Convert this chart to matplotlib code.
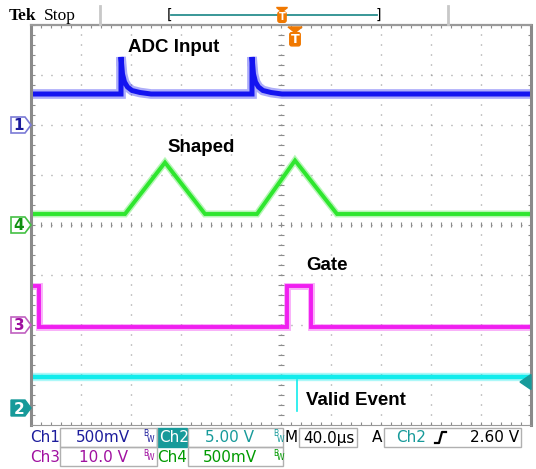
import numpy as np
import matplotlib
matplotlib.use("Agg")
from matplotlib import pyplot as plt
from matplotlib.patches import Polygon, Rectangle, FancyBboxPatch

# Trace data, in screen divisions (10 x 8 graticule)
ch1_t = [0.04, 1.80, 1.80, 1.83, 1.87, 1.93, 2.02, 2.18, 2.40, 4.42, 4.42, 4.45, 4.49, 4.55, 4.64, 4.80, 5.02, 9.98]
ch1_v = [6.62, 6.62, 7.36, 7.02, 6.86, 6.76, 6.69, 6.65, 6.62, 6.62, 7.36, 7.02, 6.86, 6.76, 6.69, 6.65, 6.62, 6.62]

ch4_t = [0.04, 1.88, 2.68, 3.48, 4.52, 5.28, 6.12, 9.98]
ch4_v = [4.22, 4.22, 5.25, 4.22, 4.22, 5.29, 4.22, 4.22]

ch3_t = [0.04, 0.16, 0.16, 5.12, 5.12, 5.60, 5.60, 9.98]
ch3_v = [2.78, 2.78, 1.97, 1.97, 2.78, 2.78, 1.97, 1.97]

ch2_t = [0.04, 9.98]
ch2_v = [0.97, 0.97]
glitch_t = [5.32, 5.32]
glitch_v = [0.90, 0.28]

# Channel ground markers (divisions) and trigger level
markers = [("1", 6.0), ("4", 4.0), ("3", 2.0), ("2", 0.34)]
trig_level = 0.86

labels = ["ADC Input", "Shaped", "Gate", "Valid Event"]
label_pos = [(1.94, 7.56), (2.72, 5.56), (5.5, 3.18), (5.5, 0.5)]

BLUE = "#1414f0"
GREEN = "#2ee62e"
MAGENTA = "#f01ef0"
CYAN = "#12ecec"
TEAL = "#179a9a"
ORANGE = "#f07800"

W, H = 536, 469
fig = plt.figure(figsize=(W / 100, H / 100), dpi=100)

# scope graticule
ax = fig.add_axes([31 / W, (H - 425) / H, 500 / W, 400 / H])
ax.set_xlim(0, 10)
ax.set_ylim(0, 8)
ax.set_xticks([])
ax.set_yticks([])
for s in ["left", "right"]:
    ax.spines[s].set_color("#8a8a8a")
    ax.spines[s].set_linewidth(2.2)
ax.spines["top"].set_color("#9a9a9a")
ax.spines["top"].set_linewidth(1.6)
ax.spines["bottom"].set_color("#9a9a9a")
ax.spines["bottom"].set_linewidth(0.8)

# overlay axes in pixel coordinates for the scope furniture
ov = fig.add_axes([0, 0, 1, 1])
ov.set_xlim(0, W)
ov.set_ylim(H, 0)
ov.axis("off")
ov.set_zorder(5)

dots = (0, (0.7, 6.5))
for gx in range(1, 10):
    ax.axvline(gx, color="#8c8c8c", lw=1.0, linestyle=dots)
for gy in range(1, 8):
    ax.axhline(gy, color="#8c8c8c", lw=1.0, linestyle=dots)

# centre axes and border tick marks
minor = np.arange(0, 10.01, 0.2)
ax.vlines(minor, 4 - 0.05, 4 + 0.05, color="#8c8c8c", lw=0.8)
ax.vlines(minor, 8 - 0.07, 8, color="#8c8c8c", lw=0.8)
ax.vlines(minor, 0, 0.07, color="#8c8c8c", lw=0.8)
minor_y = np.arange(0, 8.01, 0.2)
ax.hlines(minor_y, 5 - 0.06, 5 + 0.06, color="#8c8c8c", lw=0.8)
ax.hlines(minor_y, 0, 0.07, color="#8c8c8c", lw=0.8)
ax.hlines(minor_y, 10 - 0.07, 10, color="#8c8c8c", lw=0.8)

# traces: a soft noise band plus a solid core
traces = [(ch1_t, ch1_v, BLUE, 7.0, 3.6),
          (ch4_t, ch4_v, GREEN, 5.0, 2.8),
          (ch3_t, ch3_v, MAGENTA, 5.0, 2.8),
          (ch2_t, ch2_v, CYAN, 6.0, 3.2)]
for t, v, c, wide, core in traces:
    ax.plot(t, v, color=c, lw=wide, alpha=0.35, solid_joinstyle="miter")
    ax.plot(t, v, color=c, lw=core, alpha=1.0, solid_joinstyle="miter")
ax.plot(glitch_t, glitch_v, color=CYAN, lw=1.2)

for txt, (x, y) in zip(labels, label_pos):
    ax.text(x, y, txt, fontsize=13.5, fontweight="bold",
            family="Liberation Sans", va="center", ha="left")

# trigger level arrow on the right
ax.add_patch(Polygon([[10.0, trig_level + 0.15], [9.78, trig_level],
                      [10.0, trig_level - 0.15]], closed=True,
                     color=TEAL, clip_on=False, zorder=5))

# channel ground markers on the left
mcolors = {"1": ("#7a7ad6", "#1c1c9c"), "4": ("#44c044", "#109010"),
           "3": ("#c060c0", "#a010a0"), "2": (TEAL, "white")}
for name, lvl in markers:
    y = 425 - lvl * 50
    edge, txtc = mcolors[name]
    pts = [[11, y - 8], [25, y - 8], [31, y], [25, y + 8], [11, y + 8]]
    if name == "2":
        ov.add_patch(Polygon(pts, closed=True, facecolor=TEAL, edgecolor=TEAL))
    else:
        ov.add_patch(Polygon(pts, closed=True, facecolor="white",
                             edgecolor=edge, lw=1.2))
    ov.text(19, y + 1, name, color=txtc, fontsize=11, fontweight="bold",
            ha="center", va="center", family="DejaVu Sans")

# top status bar
ov.text(9, 16, "Tek", fontsize=12.5, fontweight="bold", family="Liberation Serif",
        va="center")
ov.text(44, 16, "Stop", fontsize=12.5, family="Liberation Serif", va="center")
for x in [100, 448]:
    ov.plot([x, x], [6, 24], color="#c8c8c8", lw=2)
ov.plot([171, 377], [15, 15], color="#2a8f8f", lw=1.3)
ov.text(170, 15, "[", fontsize=10, va="center", ha="center", family="DejaVu Sans")
ov.text(378, 15, "]", fontsize=10, va="center", ha="center", family="DejaVu Sans")


def trig_marker(x, ytop, size):
    ov.add_patch(Polygon([[x - size, ytop], [x + size, ytop], [x, ytop + size * 0.8]],
                         closed=True, color=ORANGE, zorder=6))
    ov.add_patch(FancyBboxPatch((x - size * 0.75, ytop + size * 0.8), size * 1.5,
                                size * 1.9, boxstyle="round,pad=0,rounding_size=2",
                                color=ORANGE, zorder=6))
    ov.text(x, ytop + size * 1.8, "T", color="white", fontsize=size * 1.3,
            fontweight="bold", ha="center", va="center", zorder=7)


trig_marker(282, 7.5, 5.5)
trig_marker(295, 27, 7)

# bottom readout
FS = 11
ov.add_patch(Rectangle((157, 428), 30, 19, color=TEAL))
boxes = [(60, 428, 97), (188, 428, 95), (299, 428, 58), (384, 428, 137),
         (60, 447, 97), (188, 447, 95)]
for x, y, w in boxes:
    ov.add_patch(Rectangle((x, y), w, 19, fill=False, edgecolor="#b0b0b0", lw=1))

row1, row2 = 438, 457
readout = [
    (30, row1, "Ch1", "#1c1c9c"), (76, row1, "500mV", "#1c1c9c"),
    (159, row1, "Ch2", "white"), (205, row1, "5.00 V", TEAL),
    (285, row1, "M", "black"), (303, row1, "40.0µs", "black"),
    (372, row1, "A", "black"), (396, row1, "Ch2", TEAL),
    (470, row1, "2.60 V", "black"),
    (30, row2, "Ch3", "#a010a0"), (79, row2, "10.0 V", "#a010a0"),
    (157, row2, "Ch4", "#009a00"), (203, row2, "500mV", "#009a00"),
]
for x, y, txt, c in readout:
    ov.text(x, y, txt, color=c, fontsize=FS, va="center", ha="left",
            family="DejaVu Sans")

for x, y, c in [(143, row1, "#1c1c9c"), (273, row1, TEAL),
                (143, row2, "#a010a0"), (273, row2, "#009a00")]:
    ov.text(x, y - 4, "B", color=c, fontsize=5.5, va="center", family="DejaVu Sans")
    ov.text(x + 4, y + 1, "W", color=c, fontsize=5.5, va="center", family="DejaVu Sans")

# rising edge symbol
ov.plot([435, 439, 442, 446], [443, 443, 432, 432], color="black", lw=1.6)

fig.savefig("out.png", dpi=100)
